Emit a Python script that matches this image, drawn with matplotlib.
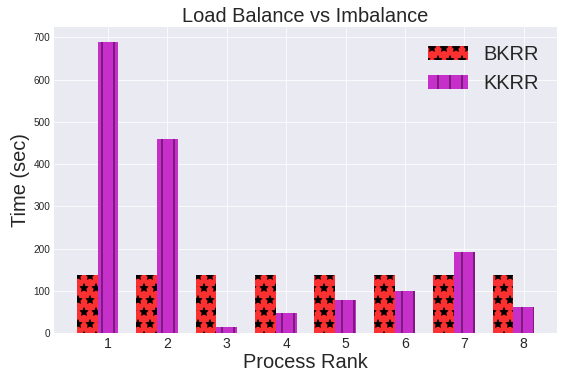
import matplotlib
matplotlib.use("Agg")
import matplotlib.pyplot as plt
import numpy as np

plt.style.use("seaborn-v0_8-darkgrid")
plt.rcParams['font.family'] = ['Liberation Sans', 'DejaVu Sans']

ranks = ["1", "2", "3", "4", "5", "6", "7", "8"]
bkrr = [138, 138, 138, 138, 138, 138, 138, 138]
kkrr = [690, 459, 14, 47, 77, 100, 191, 62]

DPI = 72
fig = plt.figure(figsize=(564 / DPI, 384 / DPI), dpi=DPI)
ax = fig.add_axes([54 / 564, 51 / 384, 503 / 564, 306 / 384])

ind = np.arange(len(ranks))
width = 0.35


def set_hlw(bars, lw):
    for b in bars:
        if hasattr(b, 'set_hatch_linewidth'):
            b.set_hatch_linewidth(lw)


plt.rcParams['hatch.linewidth'] = 0.8
b1 = ax.bar(ind, bkrr, width, color='#fb3131', edgecolor='black', linewidth=0,
            hatch='*', label='BKRR')
set_hlw(b1, 0.8)
plt.rcParams['hatch.linewidth'] = 1.6
b2 = ax.bar(ind + width, kkrr, width, color='#c62fc9', edgecolor='#6b166e', linewidth=0,
            hatch='|', label='KKRR')
set_hlw(b2, 1.6)

ax.set_xticks(ind + width)
ax.set_xticklabels(ranks, fontsize=14)
ax.tick_params(axis='y', labelsize=10)
ax.set_xlabel('Process Rank', fontsize=20, labelpad=2)
ax.set_ylabel('Time (sec)', fontsize=20)
ax.set_title('Load Balance vs Imbalance', fontsize=20, pad=5)
leg = ax.legend(loc='upper right', fontsize=20)
for h, lw in zip(leg.legend_handles, [0.8, 1.6]):
    if hasattr(h, 'set_hatch_linewidth'):
        h.set_hatch_linewidth(lw)

fig.savefig('out.png', dpi=DPI)
